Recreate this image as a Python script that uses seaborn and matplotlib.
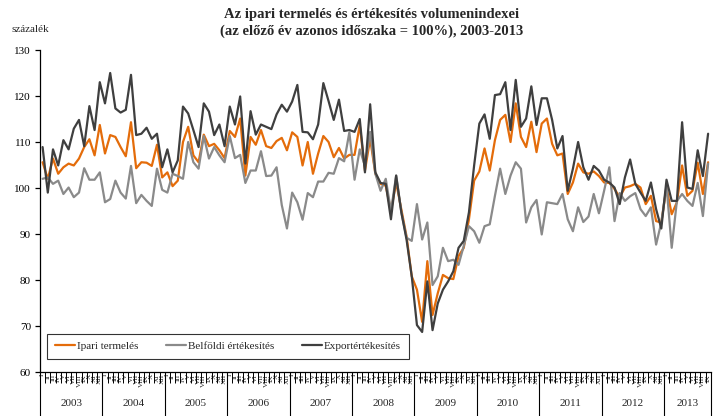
import numpy as np
import pandas as pd
import matplotlib
matplotlib.use("Agg")
import matplotlib.pyplot as plt
import matplotlib.transforms as mtransforms
import seaborn as sns

# ---------------- data ----------------
years = [2003, 2004, 2005, 2006, 2007, 2008, 2009, 2010, 2011, 2012, 2013]
month_labels = ["I", "II", "III", "IV", "V", "VI", "VII", "VIII", "IX", "X", "XI", "XII"]
months_in_last_year = 9

ipari = [105.6, 102.0, 106.4, 103.1, 104.5, 105.3, 104.9, 106.4, 108.9, 110.6, 107.1, 113.7,
         107.5, 111.5, 111.1, 108.9, 106.9, 114.3, 104.3, 105.6, 105.5, 104.8, 109.4, 102.3,
         103.4, 100.4, 101.6, 110.0, 113.3, 107.1, 105.6, 111.6,
         109.1, 109.6, 108.2, 106.5, 112.4, 111.1, 115.1, 102.7, 111.1, 109.4, 112.6, 109.1,
         108.7, 110.2, 110.9, 108.2, 112.1, 111.1, 104.9, 110.0, 103.1, 107.5, 111.3, 110.0,
         106.7, 108.7, 106.4, 107.2, 107.2, 113.7, 103.8, 110.7,
         103.1, 100.9, 100.5, 95.0, 101.2, 95.4, 89.5, 80.8, 77.9, 70.9, 84.1, 72.4,
         77.1, 81.1, 80.4, 80.2, 85.2, 87.0, 93.2, 101.6, 103.6, 108.6, 103.8, 110.4,
         114.8, 115.9, 110.0, 118.4, 111.1, 108.9, 114.4, 107.8, 114.0,
         115.1, 109.6, 107.1, 107.5, 98.7, 101.2, 105.3, 103.4, 103.1, 103.6, 102.6, 101.2,
         101.1, 99.8, 98.0, 100.1, 100.4, 100.9, 100.1, 96.5, 98.3, 92.8, 92.5, 100.1,
         94.3, 96.9, 104.9, 98.3, 99.4, 105.5, 98.7, 105.6]

belfoldi = [102.0, 102.3, 100.9, 101.6, 98.7, 100.1, 98.0, 99.0, 104.3, 101.8, 101.8, 103.4,
            96.9, 97.6, 101.6, 99.0, 97.7, 104.8, 96.7, 98.5, 97.2, 96.1, 104.2, 99.6,
            99.0, 103.1, 102.6, 102.0, 110.0, 105.6, 104.2, 111.3,
            106.4, 108.9, 107.1, 105.6, 111.3, 106.5, 107.2, 101.1, 103.8, 103.8, 108.0, 102.6,
            102.7, 104.5, 96.3, 91.2, 99.0, 96.9, 93.1, 98.9, 98.0, 101.4, 101.4, 103.3,
            103.1, 106.5, 105.8, 112.1, 101.8, 108.4, 104.8, 112.2,
            103.1, 99.4, 102.0, 95.0, 102.7, 94.7, 89.2, 88.5, 96.5, 88.8, 92.5, 78.9,
            80.8, 87.0, 84.1, 84.4, 83.3, 87.4, 91.7, 90.6, 88.1, 91.7, 92.1, 98.3,
            104.2, 98.7, 102.7, 105.6, 104.2, 92.5, 95.8, 97.4, 89.9,
            96.9, 96.7, 96.5, 98.7, 93.2, 90.6, 95.8, 92.6, 93.8, 98.7, 94.5, 99.4,
            104.5, 92.8, 98.9, 97.2, 98.2, 98.9, 95.4, 93.9, 95.8, 87.7, 92.5, 100.5,
            87.0, 97.2, 98.7, 97.2, 96.1, 101.1, 93.9, 105.3]

export = [108.9, 99.0, 108.4, 104.9, 110.4, 108.4, 112.9, 114.8, 109.1, 117.8, 112.6, 123.0,
          118.4, 125.0, 117.3, 116.4, 117.0, 124.6, 111.5, 111.8, 113.1, 110.7, 111.8, 104.5,
          108.4, 103.4, 106.0, 117.7, 116.2, 112.6, 108.9, 118.4,
          116.6, 111.5, 113.8, 109.1, 117.7, 113.8, 119.9, 105.3, 116.7, 111.6, 113.8, 113.3,
          112.8, 116.0, 118.1, 116.6, 118.8, 122.4, 112.2, 112.1, 110.6, 113.8, 122.8, 118.9,
          114.8, 119.2, 112.4, 112.6, 112.2, 115.0, 103.4, 118.2,
          103.4, 101.1, 100.9, 93.2, 102.7, 94.7, 88.8, 80.8, 70.2, 68.7, 79.7, 69.1,
          74.9, 77.9, 79.7, 81.9, 87.0, 88.5, 94.7, 104.9, 114.0, 116.0, 110.7, 120.2,
          120.4, 123.0, 112.6, 123.5, 113.3, 115.1, 122.1, 113.7, 119.5,
          119.5, 114.8, 108.6, 111.3, 99.4, 104.2, 110.0, 104.5, 101.8, 104.8, 103.8, 101.8,
          101.2, 100.1, 96.5, 102.3, 106.2, 100.9, 99.0, 97.2, 101.2, 95.4, 91.2, 101.8,
          97.2, 97.2, 114.3, 100.1, 99.8, 108.2, 102.6, 111.8]

series_names = ["Ipari termelés", "Belföldi értékesítés", "Exportértékesítés"]
colors = ["#E46C0A", "#8A8A8A", "#3F3F3F"]

# ---------------- build frame ----------------
n = len(ipari)
idx = np.arange(n)
df = pd.DataFrame({
    "t": np.tile(idx, 3),
    "v": ipari + belfoldi + export,
    "s": np.repeat(series_names, n),
})

sns.set_style("ticks")
plt.rcParams['font.family'] = ['Liberation Serif', 'DejaVu Serif']

fig = plt.figure(figsize=(7.17, 4.16), dpi=100)
ax = fig.add_axes([40 / 717, 44 / 416, 670.7 / 717, 322 / 416])

sns.lineplot(data=df, x="t", y="v", hue="s", hue_order=series_names,
             palette=dict(zip(series_names, colors)), linewidth=1.6, ax=ax)

ax.set_xlim(-0.5, n - 0.5)
ax.set_ylim(60, 130)
ax.set_yticks(range(60, 131, 10))
ax.set_xlabel("")
ax.set_ylabel("")
sns.despine(ax=ax, top=True, right=True)
for sp in ["left", "bottom"]:
    ax.spines[sp].set_color("black")
    ax.spines[sp].set_linewidth(0.9)

ax.tick_params(axis="y", direction="out", length=3.5, width=0.9, labelsize=8, pad=3, colors="black")

# month labels (centred) and month boundary ticks
ax.set_xticks(idx)
ax.set_xticklabels([month_labels[i % 12] for i in idx], rotation=90, fontsize=5.3)
ax.tick_params(axis="x", which="major", length=0, pad=1.5)
ax.set_xticks(np.arange(n + 1) - 0.5, minor=True)
ax.tick_params(axis="x", which="minor", direction="out", length=8, width=0.7, colors="black")

# year separators and labels
trans = mtransforms.blended_transform_factory(ax.transData, ax.transAxes)
bounds = [12 * k - 0.5 for k in range(len(years))] + [n - 0.5]
for b in bounds:
    ax.plot([b, b], [0, -44 / 322], transform=trans, clip_on=False, color="black", lw=0.8)
for k, yr in enumerate(years):
    centre = (bounds[k] + bounds[k + 1]) / 2
    ax.text(centre, -31 / 322, str(yr), transform=trans, ha="center", va="center", fontsize=8)

# legend
handles, labels = ax.get_legend_handles_labels()
leg = ax.legend(handles, labels, loc="lower left", bbox_to_anchor=(0.0104, 0.0404, 0.5397, 0.084),
                mode="expand", ncol=3, frameon=True, fancybox=False, edgecolor="black",
                fontsize=8, handlelength=1.8, handletextpad=0.2, borderaxespad=0,
                columnspacing=1.5, borderpad=0.7)
leg.get_frame().set_linewidth(0.8)

# titles
fig.text(372 / 717, 1 - 23 / 416,
         "Az ipari termelés és értékesítés volumenindexei\n(az előző év azonos időszaka = 100%), 2003-2013",
         ha="center", va="center", fontsize=10.5, fontweight="bold", linespacing=1.3)
fig.text(12 / 717, 1 - 30 / 416, "százalék", ha="left", va="center", fontsize=8)

fig.savefig("out.png", dpi=100)
